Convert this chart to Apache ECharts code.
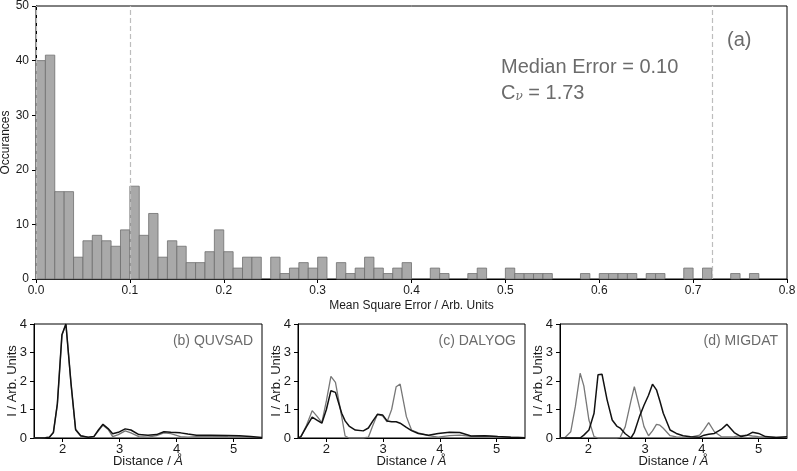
<!DOCTYPE html>
<html>
<head>
<meta charset="utf-8">
<script src="https://cdn.jsdelivr.net/npm/echarts@6/dist/echarts.min.js"></script>
<style>html,body{margin:0;padding:0;background:#fff;}#c{width:797px;height:471px;}</style>
</head>
<body>
<div id="c"></div>
<script>
// ---------- Histogram (a) ----------
const binWidth = 0.01;
const counts = [
  40,41,16,16,4,7,8,7,6,9,
  17,8,12,4,7,6,3,3,5,9,
  5,2,4,4,0,4,1,2,3,2,
  4,0,3,1,2,4,2,1,2,3,
  0,0,2,1,0,0,1,2,0,0,
  2,1,1,1,1,0,0,0,1,0,
  1,1,1,1,0,1,1,0,0,2,
  0,2,0,0,1,0,1,0,0,0
];
const refLines = [0.004, 0.1, 0.72];

// ---------- Panel (b) QUVSAD ----------
const distB  = [1.5,1.6,1.7,1.77,1.84,1.91,1.99,2.06,2.15,2.23,2.32,2.45,2.55,2.63,2.71,2.8,2.88,2.98,3.1,3.2,3.34,3.5,3.65,3.78,3.9,4.07,4.2,4.35,4.6,4.9,5.1,5.3,5.5];
const grayB  = [0,0,0.01,0.03,0.19,1.2,3.6,4.0,1.9,0.28,0.07,0.02,0.05,0.25,0.45,0.3,0.05,0.12,0.25,0.18,0.05,0.03,0.08,0.18,0.15,0.05,0.03,0.05,0.07,0.05,0.04,0.02,0.01];
const blackB = [0,0,0.01,0.03,0.19,1.2,3.62,4.0,1.9,0.3,0.08,0.03,0.05,0.28,0.48,0.33,0.15,0.2,0.32,0.28,0.12,0.1,0.12,0.22,0.2,0.18,0.14,0.1,0.1,0.09,0.08,0.05,0.02];

// ---------- Panel (c) DALYOG ----------
const distC  = [1.5,1.55,1.65,1.75,1.84,1.92,2.0,2.08,2.16,2.27,2.33,2.4,2.51,2.65,2.74,2.82,2.9,2.99,3.07,3.15,3.23,3.3,3.41,3.5,3.62,3.8,3.97,4.17,4.35,4.55,4.79,5.02,5.25,5.5];
const grayC  = [0,0.03,0.45,0.96,0.75,0.54,1.3,2.16,1.95,0.75,0.07,0,0,0,0.03,0.45,0.83,0.78,0.57,1.0,1.8,1.89,0.75,0.28,0.18,0.08,0.03,0.08,0.1,0.06,0.07,0.05,0.03,0.01];
const blackC = [0,0.05,0.4,0.73,0.62,0.52,1.0,1.66,1.6,0.87,0.6,0.42,0.28,0.25,0.35,0.6,0.83,0.81,0.6,0.57,0.57,0.52,0.37,0.26,0.16,0.1,0.16,0.2,0.19,0.07,0.08,0.05,0.03,0.01];

// ---------- Panel (d) MIGDAT ----------
const distD  = [1.5,1.58,1.69,1.77,1.855,1.92,2.01,2.1,2.17,2.24,2.33,2.42,2.5,2.56,2.65,2.75,2.81,2.9,2.98,3.06,3.13,3.2,3.26,3.32,3.44,3.55,3.67,3.8,3.96,4.04,4.12,4.22,4.34,4.44,4.57,4.69,4.8,4.89,5.0,5.12,5.3,5.5];
const grayD  = [0,0,0.22,1.1,2.27,1.83,0.63,0.05,0,0,0,0,0,0.02,0.4,1.3,1.8,1.08,0.4,0.08,0.25,0.48,0.45,0.34,0.08,0.04,0.02,0.03,0.1,0.3,0.54,0.22,0.05,0.04,0.05,0.08,0.1,0.07,0.05,0.04,0.03,0.02];
const blackD = [0,0,0,0,0,0.1,0.28,0.87,2.22,2.24,1.34,0.63,0.42,0.35,0.15,0,0.2,0.75,1.15,1.5,1.89,1.69,1.3,0.87,0.28,0.16,0.08,0.04,0.03,0.1,0.13,0.16,0.3,0.48,0.19,0.05,0.1,0.2,0.16,0.05,0.02,0.04];

const distTicks = [2, 3, 4, 5];
const panelLabels = ['(b) QUVSAD', '(c) DALYOG', '(d) MIGDAT'];

const FONT = 'Liberation Sans, Arial, Helvetica, sans-serif';
const TXT = '#1a1a1a';
const GRAYTXT = '#6b6b6b';

const chart = echarts.init(document.getElementById('c'), null, {renderer: 'canvas'});

const histData = counts.map((c, i) => [i * binWidth, (i + 1) * binWidth, c]);

const panelGrids = [
  {left: 34, width: 228, top: 324, height: 114},
  {left: 298, width: 227, top: 324, height: 114},
  {left: 560, width: 227, top: 324, height: 114}
];
const panels = [
  {dist: distB, gray: grayB, black: blackB},
  {dist: distC, gray: grayC, black: blackC},
  {dist: distD, gray: grayD, black: blackD}
];

const gridBase = {show: true, borderColor: '#000', borderWidth: 1, containLabel: false, outerBoundsMode: 'none'};
const grids = [Object.assign({left: 36, right: 10, top: 6, height: 273}, gridBase)]
  .concat(panelGrids.map(g => Object.assign({}, gridBase, g)));

const xAxes = [{
  gridIndex: 0, type: 'value', min: 0, max: 0.8, interval: 0.1,
  name: 'Mean Square Error / Arb. Units', nameLocation: 'middle', nameGap: 21, nameMoveOverlap: false,
  nameTextStyle: {fontFamily: FONT, fontSize: 12, color: TXT},
  axisLine: {lineStyle: {color: '#000', width: 1}},
  axisTick: {show: true, length: 4, lineStyle: {color: '#000'}},
  axisLabel: {fontFamily: FONT, fontSize: 12, color: TXT, margin: 6, formatter: v => v.toFixed(1)},
  splitLine: {show: false}
}];
const yAxes = [{
  gridIndex: 0, type: 'value', min: 0, max: 50, interval: 10,
  name: 'Occurances', nameLocation: 'middle', nameGap: 24, nameMoveOverlap: false,
  nameTextStyle: {fontFamily: FONT, fontSize: 12, color: TXT},
  axisLine: {show: true, lineStyle: {color: '#000', width: 1}},
  axisTick: {show: true, length: 4, lineStyle: {color: '#000'}},
  axisLabel: {fontFamily: FONT, fontSize: 12, color: TXT, margin: 7},
  splitLine: {show: false}
}];

panels.forEach((p, k) => {
  xAxes.push({
    gridIndex: k + 1, type: 'value', min: 1.5, max: 5.5,
    name: 'Distance / {i|Å}', nameLocation: 'middle', nameGap: 17, nameMoveOverlap: false,
    nameTextStyle: {fontFamily: FONT, fontSize: 13, color: TXT,
      rich: {i: {fontFamily: FONT, fontSize: 13, fontStyle: 'italic', color: TXT}}},
    axisLine: {lineStyle: {color: '#000', width: 1}},
    axisTick: {show: true, length: 4, customValues: distTicks, lineStyle: {color: '#000'}},
    axisLabel: {fontFamily: FONT, fontSize: 13, color: TXT, margin: 5, customValues: distTicks},
    splitLine: {show: false}
  });
  yAxes.push({
    gridIndex: k + 1, type: 'value', min: 0, max: 4, interval: 1,
    name: 'I / Arb. Units', nameLocation: 'middle', nameGap: 15, nameMoveOverlap: false,
    nameTextStyle: {fontFamily: FONT, fontSize: 13, color: TXT},
    axisLine: {show: true, lineStyle: {color: '#000', width: 1}},
    axisTick: {show: true, length: 4, lineStyle: {color: '#000'}},
    axisLabel: {fontFamily: FONT, fontSize: 13, color: TXT, margin: 7},
    splitLine: {show: false}
  });
});

const series = [
  {
    type: 'line', xAxisIndex: 0, yAxisIndex: 0, data: [], silent: true, animation: false,
    markLine: {
      silent: true, symbol: 'none', animation: false, label: {show: false},
      lineStyle: {color: '#bdbdbd', type: [5, 3], width: 1.2},
      data: refLines.map(v => ({xAxis: v}))
    }
  },
  {
    type: 'custom', xAxisIndex: 0, yAxisIndex: 0, data: histData, animation: false,
    encode: {x: [0, 1], y: 2},
    renderItem: function (params, api) {
      const s = api.value(0), e = api.value(1), c = api.value(2);
      if (!c) return null;
      const p0 = api.coord([s, c]);
      const p1 = api.coord([e, 0]);
      return {
        type: 'rect',
        shape: {x: p0[0], y: p0[1], width: p1[0] - p0[0], height: p1[1] - p0[1]},
        style: {fill: '#a9a9a9', stroke: '#6e6e6e', lineWidth: 0.8}
      };
    }
  }
];

panels.forEach((p, k) => {
  series.push({
    type: 'line', xAxisIndex: k + 1, yAxisIndex: k + 1, animation: false,
    showSymbol: false, symbol: 'none',
    data: p.dist.map((d, i) => [d, p.gray[i]]),
    lineStyle: {color: '#777777', width: 1.3}
  });
  series.push({
    type: 'line', xAxisIndex: k + 1, yAxisIndex: k + 1, animation: false,
    showSymbol: false, symbol: 'none',
    data: p.dist.map((d, i) => [d, p.black[i]]),
    lineStyle: {color: '#111111', width: 1.5}
  });
});

const graphics = [
  {type: 'text', left: 501, top: 57, silent: true,
   style: {text: 'Median Error = 0.10', fontFamily: FONT, fontSize: 20, fill: GRAYTXT}},
  {type: 'text', left: 501, top: 83, silent: true,
   style: {text: '{n|C}{s|ν}{n| = 1.73}', fill: GRAYTXT,
     rich: {
       n: {fontFamily: FONT, fontSize: 20, fill: GRAYTXT, color: GRAYTXT},
       s: {fontFamily: 'DejaVu Serif, serif', fontSize: 12, fontStyle: 'italic', color: GRAYTXT, verticalAlign: 'bottom', padding: [8, 0, 0, 0]}
     }}},
  {type: 'text', left: 727, top: 30, silent: true,
   style: {text: '(a)', fontFamily: FONT, fontSize: 20, fill: GRAYTXT}}
];
panelGrids.forEach((g, k) => {
  graphics.push({type: 'text', right: 797 - (g.left + g.width) + 9, top: 334, silent: true,
    style: {text: panelLabels[k], fontFamily: FONT, fontSize: 14, fill: GRAYTXT}});
});

chart.setOption({
  animation: false,
  backgroundColor: '#ffffff',
  grid: grids,
  xAxis: xAxes,
  yAxis: yAxes,
  series: series,
  graphic: graphics
});
</script>
</body>
</html>
